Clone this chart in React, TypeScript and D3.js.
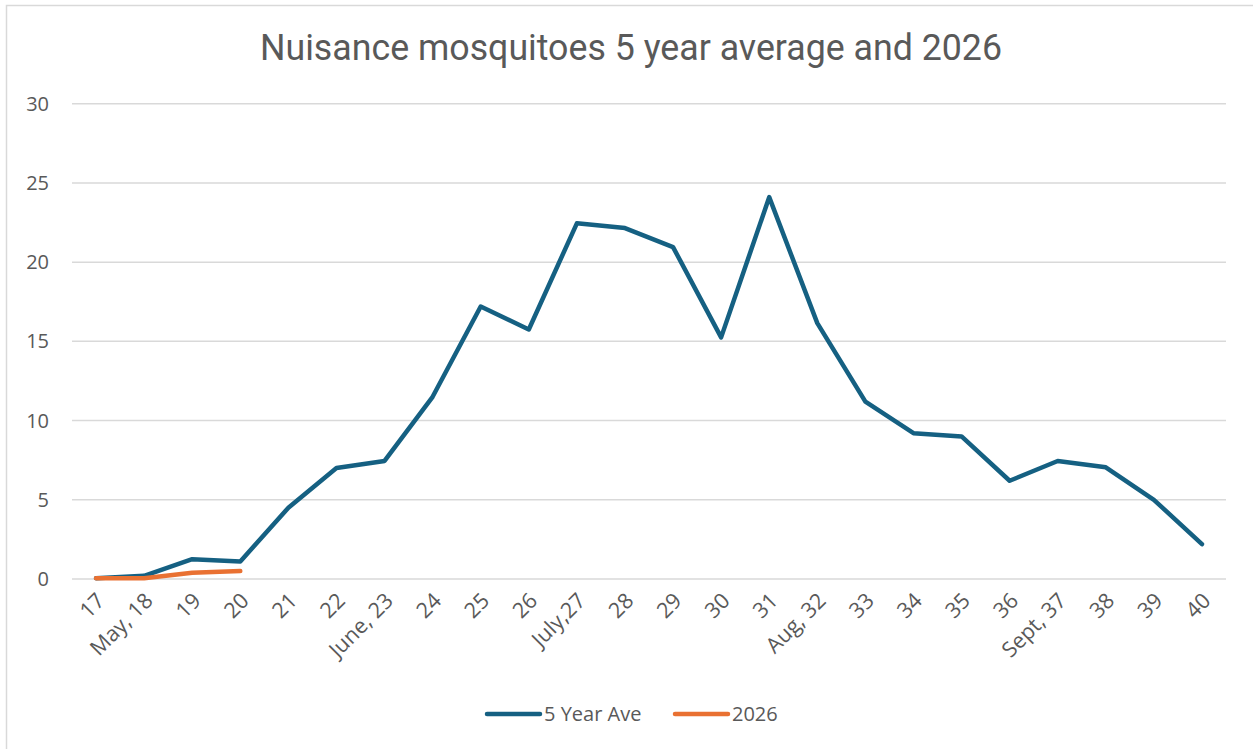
import React, { useEffect, useRef } from 'react';
import * as d3 from 'd3';

const weeks = ['17', 'May, 18', '19', '20', '21', '22', 'June, 23', '24', '25', '26', 'July,27', '28', '29', '30', '31', 'Aug, 32', '33', '34', '35', '36', 'Sept, 37', '38', '39', '40'];
const fiveYearAve = [0.05, 0.2, 1.25, 1.1, 4.5, 7.0, 7.45, 11.5, 17.2, 15.75, 22.45, 22.15, 20.95, 15.25, 24.1, 16.15, 11.2, 9.2, 9.0, 6.2, 7.45, 7.05, 5.0, 2.2];
const y2026 = [0.05, 0.05, 0.4, 0.5];
const yTicks = [0, 5, 10, 15, 20, 25, 30];

const W = 1253;
const H = 749;
const BLUE = '#156082';
const ORANGE = '#E97132';
const TEXT = '#595959';
const FONT = '"Open Sans", sans-serif';

const App: React.FC = () => {
  const ref = useRef<SVGSVGElement>(null);

  useEffect(() => {
    document.body.style.margin = '0';
    if (!ref.current) return;
    const svg = d3.select(ref.current);
    svg.selectAll('*').remove();

    // chart frame
    svg.append('rect').attr('x', 6.5).attr('y', 5.5).attr('width', 1250).attr('height', 760)
      .attr('fill', 'white').attr('stroke', '#d9d9d9').attr('stroke-width', 1.5);

    const x = d3.scaleBand().domain(weeks).range([72, 1226]);
    const y = d3.scaleLinear().domain([0, 30]).range([579, 103.7]);
    const cx = (d: string) => x(d)! + x.bandwidth() / 2;

    // title
    svg.append('text').attr('x', 631).attr('y', 60).attr('text-anchor', 'middle')
      .attr('font-family', 'Roboto, sans-serif').attr('font-size', 36).attr('fill', TEXT)
      .attr('textLength', 742).attr('lengthAdjust', 'spacingAndGlyphs')
      .text('Nuisance mosquitoes 5 year average and 2026');

    // gridlines
    svg.append('g').selectAll('line').data(yTicks).enter().append('line')
      .attr('x1', 72).attr('x2', 1226)
      .attr('y1', (d) => y(d)).attr('y2', (d) => y(d))
      .attr('stroke', '#d9d9d9').attr('stroke-width', 1.5);

    // y labels
    svg.append('g').selectAll('text').data(yTicks).enter().append('text')
      .attr('x', 49).attr('y', (d) => y(d)).attr('dy', '0.35em').attr('text-anchor', 'end')
      .attr('font-family', FONT).attr('font-size', 20).attr('fill', TEXT)
      .text((d) => d);

    // x labels
    svg.append('g').selectAll('text').data(weeks).enter().append('text')
      .attr('text-anchor', 'end')
      .attr('transform', (d) => `translate(${cx(d) + 10},${602}) rotate(-45)`)
      .attr('font-family', FONT).attr('font-size', 21.5).attr('fill', TEXT)
      .text((d) => d);

    const line = d3.line<number>().x((_, i) => cx(weeks[i])).y((d) => y(d));

    svg.append('path').datum(fiveYearAve).attr('d', line).attr('fill', 'none')
      .attr('stroke', BLUE).attr('stroke-width', 4.5).attr('stroke-linejoin', 'round').attr('stroke-linecap', 'round');
    svg.append('path').datum(y2026).attr('d', line).attr('fill', 'none')
      .attr('stroke', ORANGE).attr('stroke-width', 4.5).attr('stroke-linejoin', 'round').attr('stroke-linecap', 'round');

    // legend
    const legend = [
      { name: '5 Year Ave', color: BLUE, x: 487 },
      { name: '2026', color: ORANGE, x: 675 },
    ];
    const lg = svg.append('g').selectAll('g').data(legend).enter().append('g');
    lg.append('line').attr('x1', (d) => d.x).attr('x2', (d) => d.x + 53)
      .attr('y1', 714).attr('y2', 714).attr('stroke', (d) => d.color)
      .attr('stroke-width', 4.5).attr('stroke-linecap', 'round');
    lg.append('text').attr('x', (d) => d.x + 57).attr('y', 714).attr('dy', '0.35em')
      .attr('font-family', FONT).attr('font-size', 20).attr('fill', TEXT)
      .text((d) => d.name);
  }, []);

  return <svg ref={ref} width={W} height={H} style={{ display: 'block' }}></svg>;
};

export default App;
